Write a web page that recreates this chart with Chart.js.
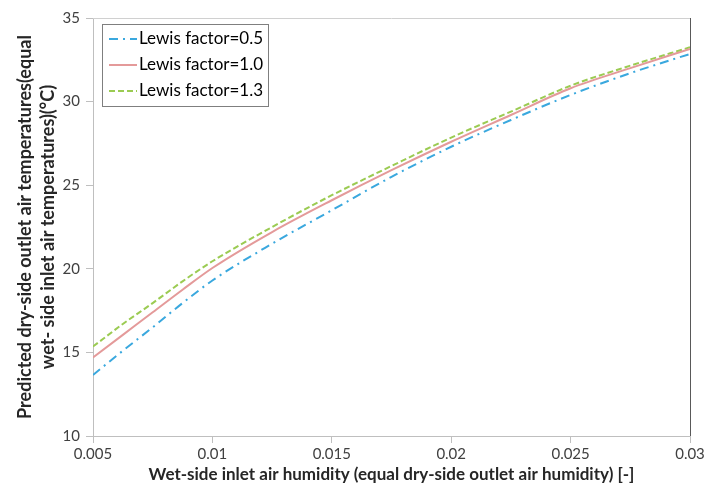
<!DOCTYPE html>
<html>
<head>
<meta charset="utf-8">
<script src="https://cdn.jsdelivr.net/npm/chart.js@4/dist/chart.umd.min.js"></script>
<style>
  html, body { margin: 0; padding: 0; background: #fff; }
</style>
</head>
<body>
<canvas id="chart" width="717" height="491"></canvas>
<script>
// x values: wet-side inlet air humidity
const humidity = [0.005, 0.00625, 0.0075, 0.00875, 0.01, 0.0125, 0.015, 0.0175, 0.02, 0.0225, 0.025, 0.0275, 0.03];
// predicted temperatures for each Lewis factor
const lewis05 = [13.65, 15.1, 16.5, 17.95, 19.3, 21.5, 23.5, 25.5, 27.3, 28.9, 30.4, 31.7, 32.85];
const lewis10 = [14.7, 16.05, 17.4, 18.75, 20.05, 22.2, 24.1, 25.9, 27.6, 29.2, 30.8, 32.0, 33.15];
const lewis13 = [15.35, 16.7, 17.95, 19.25, 20.45, 22.5, 24.4, 26.15, 27.85, 29.4, 30.95, 32.15, 33.25];
const seriesNames = ["Lewis factor=0.5", "Lewis factor=1.0", "Lewis factor=1.3"];
const yTicks = [10, 15, 20, 25, 30, 35];

const font = "Lato, 'Open Sans', sans-serif";
const textColor = "#404040";

function points(ys) {
  return humidity.map((x, i) => ({ x: x, y: ys[i] }));
}

// legend box drawn inside the plot, top left
const innerLegend = {
  id: "innerLegend",
  afterDraw(chart) {
    const ctx = chart.ctx;
    const a = chart.chartArea;
    const x0 = a.left + 9, y0 = a.top + 6, w = 166, h = 82;
    ctx.save();
    ctx.fillStyle = "#fff";
    ctx.fillRect(x0, y0, w, h);
    ctx.strokeStyle = "#7f7f7f";
    ctx.lineWidth = 1;
    ctx.strokeRect(x0 + 0.5, y0 + 0.5, w, h);
    chart.data.datasets.forEach((ds, i) => {
      const yy = y0 + 15 + i * 26;
      ctx.beginPath();
      ctx.setLineDash(ds.borderDash || []);
      ctx.strokeStyle = ds.borderColor;
      ctx.lineWidth = 2;
      ctx.moveTo(x0 + 7, yy);
      ctx.lineTo(x0 + 35, yy);
      ctx.stroke();
      ctx.setLineDash([]);
      ctx.fillStyle = "#000";
      ctx.font = "17px " + font;
      ctx.textBaseline = "middle";
      ctx.fillText(ds.label, x0 + 37, yy);
    });
    ctx.restore();
  }
};

// top and right edges of the plot area
const plotBorder = {
  id: "plotBorder",
  beforeDatasetsDraw(chart) {
    const ctx = chart.ctx;
    const a = chart.chartArea;
    ctx.save();
    ctx.lineWidth = 1;
    ctx.strokeStyle = "#d0d0d0";
    ctx.beginPath();
    ctx.moveTo(a.left, Math.round(a.top) + 0.5);
    ctx.lineTo(a.right, Math.round(a.top) + 0.5);
    ctx.stroke();
    ctx.strokeStyle = "#595959";
    ctx.beginPath();
    ctx.moveTo(Math.round(a.right) + 0.5, a.top);
    ctx.lineTo(Math.round(a.right) + 0.5, a.bottom);
    ctx.stroke();
    ctx.restore();
  }
};

new Chart(document.getElementById("chart"), {
  type: "line",
  data: {
    datasets: [
      {
        label: seriesNames[0],
        data: points(lewis05),
        borderColor: "#3aa8de",
        borderDash: [9, 5, 2, 5],
        borderWidth: 2,
        pointRadius: 0,
        cubicInterpolationMode: "monotone"
      },
      {
        label: seriesNames[1],
        data: points(lewis10),
        borderColor: "#e49a9a",
        borderWidth: 2,
        pointRadius: 0,
        cubicInterpolationMode: "monotone"
      },
      {
        label: seriesNames[2],
        data: points(lewis13),
        borderColor: "#9bcb52",
        borderDash: [6, 3],
        borderWidth: 2,
        pointRadius: 0,
        cubicInterpolationMode: "monotone"
      }
    ]
  },
  options: {
    responsive: false,
    animation: false,
    layout: { padding: { top: 18, right: 27, left: 13, bottom: 6 } },
    plugins: {
      legend: { display: false },
      tooltip: { enabled: false }
    },
    scales: {
      x: {
        type: "linear",
        min: 0.005,
        max: 0.03,
        ticks: {
          stepSize: 0.005,
          color: textColor,
          font: { family: font, size: 15 },
          padding: 2,
          maxRotation: 0,
          callback: (v) => String(Number(v.toFixed(4)))
        },
        grid: { drawOnChartArea: false, tickLength: 7, color: "#bfbfbf" },
        border: { color: "#bfbfbf" },
        title: {
          display: true,
          text: "Wet-side inlet air humidity (equal dry-side outlet air humidity) [-]",
          color: "#262626",
          font: { family: font, size: 17, weight: "bold" },
          padding: { top: 0, bottom: 0 }
        },
        afterFit(scale) { scale.height = 49; }
      },
      y: {
        min: 10,
        max: 35,
        afterBuildTicks(scale) { scale.ticks = yTicks.map((v) => ({ value: v })); },
        ticks: {
          color: textColor,
          font: { family: font, size: 15 },
          padding: 6
        },
        grid: { drawOnChartArea: false, tickLength: 7, color: "#bfbfbf" },
        border: { color: "#bfbfbf" },
        title: {
          display: true,
          text: ["Predicted dry-side outlet air temperatures(equal", "wet- side inlet air temperatures)(°C)"],
          color: "#262626",
          font: { family: font, size: 18, weight: "bold", lineHeight: 1.3 },
          padding: { top: 0, bottom: 0 }
        },
        afterFit(scale) { scale.width = 80; }
      }
    }
  },
  plugins: [innerLegend, plotBorder]
});
</script>
</body>
</html>
